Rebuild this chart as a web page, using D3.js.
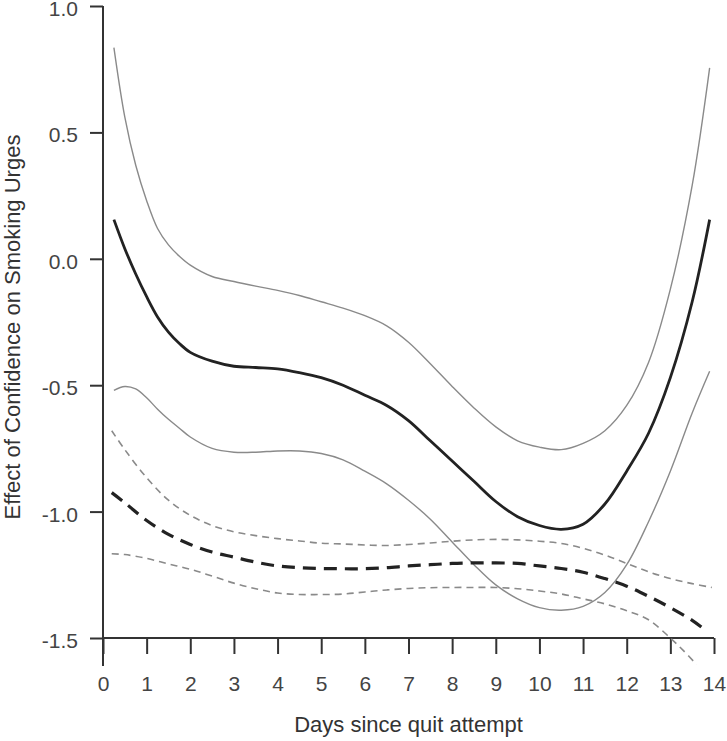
<!DOCTYPE html>
<html>
<head>
<meta charset="utf-8">
<script src="https://cdn.jsdelivr.net/npm/d3@7"></script>
<style>
  html, body { margin: 0; padding: 0; background: #fff; }
  svg { display: block; font-family: "Liberation Sans", Arial, Helvetica, sans-serif; }
</style>
</head>
<body>
<svg id="chart" width="727" height="741"></svg>
<script>
// ---------- data ----------
const xTicks = [0,1,2,3,4,5,6,7,8,9,10,11,12,13,14];
const yTicks = [-1.5, -1.0, -0.5, 0.0, 0.5, 1.0];
const yTickLabels = ["-1.5", "-1.0", "-0.5", "0.0", "0.5", "1.0"];
const xTitle = "Days since quit attempt";
const yTitle = "Effect of Confidence on Smoking Urges";

// solid series: estimate with confidence band
const solidDays = [0.25,0.5,0.75,1,1.25,1.5,1.75,2,2.5,3,3.5,4,4.5,5,5.5,6,6.5,7,7.5,8,8.5,9,9.5,10,10.5,11,11.5,12,12.5,13,13.5,13.9];
const solidMean = [0.155,0.04,-0.06,-0.15,-0.23,-0.29,-0.335,-0.37,-0.405,-0.425,-0.43,-0.435,-0.45,-0.47,-0.50,-0.54,-0.58,-0.64,-0.72,-0.80,-0.88,-0.96,-1.02,-1.055,-1.07,-1.05,-0.97,-0.84,-0.69,-0.47,-0.17,0.155];
const solidUpper = [0.835,0.56,0.37,0.23,0.12,0.055,0.01,-0.025,-0.07,-0.09,-0.108,-0.125,-0.145,-0.17,-0.195,-0.225,-0.265,-0.33,-0.415,-0.505,-0.59,-0.665,-0.72,-0.745,-0.755,-0.73,-0.68,-0.58,-0.41,-0.12,0.29,0.755];
const solidLower = [-0.52,-0.505,-0.515,-0.55,-0.595,-0.635,-0.67,-0.705,-0.75,-0.765,-0.765,-0.76,-0.76,-0.77,-0.795,-0.84,-0.89,-0.955,-1.03,-1.12,-1.21,-1.29,-1.345,-1.38,-1.39,-1.375,-1.32,-1.21,-1.04,-0.84,-0.61,-0.445];

// dashed series: estimate with confidence band
const dashDays = [0.2,0.5,1,1.5,2,2.5,3,3.5,4,4.5,5,5.5,6,6.5,7,7.5,8,8.5,9,9.5,10,10.5,11,11.5,12,12.5,13,13.5,13.85];
const dashMean = [-0.925,-0.965,-1.035,-1.09,-1.13,-1.16,-1.18,-1.2,-1.215,-1.222,-1.225,-1.226,-1.226,-1.222,-1.215,-1.21,-1.205,-1.203,-1.203,-1.205,-1.215,-1.225,-1.24,-1.265,-1.295,-1.335,-1.38,-1.43,-1.475];
const dashUpperDays = [0.2,0.5,1,1.5,2,2.5,3,3.5,4,4.5,5,5.5,6,6.5,7,7.5,8,8.5,9,9.5,10,10.5,11,11.5,12,12.5,13,13.5,13.95];
const dashUpper = [-0.68,-0.755,-0.866,-0.955,-1.015,-1.055,-1.08,-1.095,-1.107,-1.116,-1.125,-1.128,-1.132,-1.134,-1.13,-1.124,-1.117,-1.112,-1.11,-1.112,-1.117,-1.126,-1.145,-1.172,-1.205,-1.238,-1.265,-1.285,-1.30];
const dashLowerDays = [0.2,0.5,1,1.5,2,2.5,3,3.5,4,4.5,5,5.5,6,6.5,7,7.5,8,8.5,9,9.5,10,10.5,11,11.5,12,12.5,13,13.3,13.6];
const dashLower = [-1.167,-1.17,-1.185,-1.207,-1.228,-1.255,-1.283,-1.305,-1.322,-1.328,-1.328,-1.326,-1.318,-1.31,-1.304,-1.301,-1.30,-1.30,-1.30,-1.305,-1.314,-1.326,-1.345,-1.365,-1.392,-1.428,-1.50,-1.55,-1.605];

// ---------- chart ----------
const svg = d3.select("#chart");
const x = d3.scaleLinear().domain([0, 14]).range([103, 714]);
const y = d3.scaleLinear().domain([-1.5, 1.0]).range([638, 6]);
const axisColor = "#333";
const font = "'Liberation Sans', Arial, sans-serif";

// Y axis
const yAxis = svg.append("g").attr("transform", `translate(${x(0)},0)`)
  .call(d3.axisLeft(y).tickValues(yTicks).tickFormat((d, i) => yTickLabels[i]).tickSize(13).tickPadding(12));
yAxis.select(".domain").remove();
yAxis.selectAll(".tick line").attr("stroke", axisColor).attr("stroke-width", 2);
yAxis.selectAll(".tick text").attr("fill", "#444").attr("dy", "0.45em")
  .style("font-size", "21px").style("font-family", font);
svg.append("line")
  .attr("x1", x(0)).attr("x2", x(0))
  .attr("y1", y(1.0)).attr("y2", y(-1.5) + 28)
  .attr("stroke", axisColor).attr("stroke-width", 2);

// X axis
const xAxis = svg.append("g").attr("transform", `translate(0,${y(-1.5)})`)
  .call(d3.axisBottom(x).tickValues(xTicks).tickFormat(d3.format("d")).tickSize(16).tickPadding(22));
xAxis.select(".domain").remove();
xAxis.selectAll(".tick line").attr("stroke", axisColor).attr("stroke-width", 2);
xAxis.selectAll(".tick text").attr("fill", "#444").style("font-size", "21px").style("font-family", font);
svg.append("line")
  .attr("x1", x(0)).attr("x2", x(14))
  .attr("y1", y(-1.5)).attr("y2", y(-1.5))
  .attr("stroke", axisColor).attr("stroke-width", 2);

// Titles
svg.append("text")
  .attr("x", (x(0) + x(14)) / 2).attr("y", 732)
  .attr("text-anchor", "middle").attr("fill", "#333")
  .style("font-size", "22px").style("font-family", font)
  .text(xTitle);
svg.append("text")
  .attr("transform", `translate(20,327) rotate(-90)`)
  .attr("text-anchor", "middle").attr("fill", "#333")
  .style("font-size", "22px").style("font-family", font)
  .text(yTitle);

// Lines
const line = d3.line().x(d => x(d[0])).y(d => y(d[1])).curve(d3.curveCatmullRom.alpha(0.5));
const zip = (a, b) => a.map((v, i) => [v, b[i]]);

const series = [
  { pts: zip(solidDays, solidUpper), stroke: "#8a8a8a", width: 1.4, dash: null },
  { pts: zip(solidDays, solidLower), stroke: "#8a8a8a", width: 1.4, dash: null },
  { pts: zip(dashUpperDays, dashUpper), stroke: "#8a8a8a", width: 1.6, dash: "7,5" },
  { pts: zip(dashLowerDays, dashLower), stroke: "#8a8a8a", width: 1.6, dash: "7,5" },
  { pts: zip(dashDays, dashMean), stroke: "#222", width: 3.2, dash: "13,8" },
  { pts: zip(solidDays, solidMean), stroke: "#222", width: 2.8, dash: null }
];

svg.selectAll("path.series").data(series).enter().append("path")
  .attr("class", "series")
  .attr("d", d => line(d.pts))
  .attr("fill", "none")
  .attr("stroke", d => d.stroke)
  .attr("stroke-width", d => d.width)
  .attr("stroke-dasharray", d => d.dash)
  .attr("stroke-linecap", "butt");
</script>
</body>
</html>
